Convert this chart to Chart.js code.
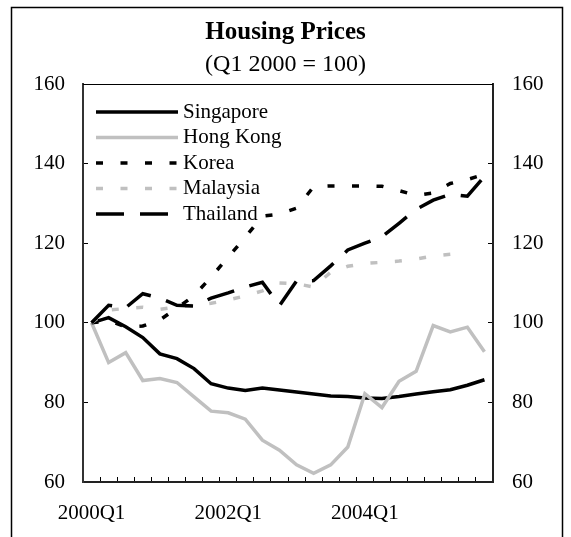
<!DOCTYPE html>
<html>
<head>
<meta charset="utf-8">
<script src="https://cdn.jsdelivr.net/npm/chart.js@4.4.1/dist/chart.umd.min.js"></script>
<style>
  html, body { margin: 0; padding: 0; background: #fff; }
  #wrap { width: 571px; height: 537px; }
</style>
</head>
<body>
<div id="wrap"><canvas id="housingChart" width="571" height="537"></canvas></div>
<script>
// Quarterly categories
const quarters = [
  '2000Q1', '2000Q2', '2000Q3', '2000Q4',
  '2001Q1', '2001Q2', '2001Q3', '2001Q4',
  '2002Q1', '2002Q2', '2002Q3', '2002Q4',
  '2003Q1', '2003Q2', '2003Q3', '2003Q4',
  '2004Q1', '2004Q2', '2004Q3', '2004Q4',
  '2005Q1', '2005Q2', '2005Q3', '2005Q4'
];
const shownQuarters = ['2000Q1', '2002Q1', '2004Q1'];
const yTicks = [60, 80, 100, 120, 140, 160];

// Index values (Q1 2000 = 100)
const singapore = [100, 101.3, 99, 96.3, 92.2, 91, 88.5, 84.7, 83.6, 83, 83.6, 83.1,
  82.6, 82.1, 81.6, 81.5, 81.1, 81, 81.5, 82.1, 82.7, 83.2, 84.3, 85.7];
const hongKong = [100, 90, 92.5, 85.5, 86, 85, 81.4, 77.8, 77.4, 75.8, 70.5, 68,
  64.3, 62.2, 64.3, 68.8, 82.2, 78.7, 85.3, 87.8, 99.3, 97.7, 98.9, 92.7];
const korea = [100, 100.5, 99, 99.2, 100.7, 103.7, 106.8, 111.5, 116.5, 121.5, 126.8, 127.3,
  128.8, 134.2, 134.4, 134.4, 134.4, 134.3, 133.2, 132, 132.6, 135, 136, 137.3];
const malaysia = [100, 103.2, 103.6, 103.9, 103.4, 104, 104.4, 104.9, 105.7, 106.8, 108, 110,
  109.8, 109, 112.7, 114.2, 114.9, 115.2, 115.5, 116, 116.8, 117.2];
const thailand = [100, 104.4, 103.8, 107.3, 106.2, 104.4, 104.2, 106.2, 107.5, 109, 110.2, 104.3,
  110.5, 110.6, 114.3, 118.3, 120, 121.6, 125, 128.5, 130.8, 132.3, 131.8, 136.8];

const serif = 'Liberation Serif, "Times New Roman", serif';
const black = '#000000';
const grey = '#c0c0c0';

// white page, outer frame and the top edge of the plot box
const framePlugin = {
  id: 'frame',
  beforeDraw(chart) {
    const ctx = chart.ctx;
    ctx.save();
    ctx.fillStyle = '#fff';
    ctx.fillRect(0, 0, chart.width, chart.height);
    ctx.strokeStyle = '#000';
    ctx.lineWidth = 1.5;
    ctx.strokeRect(11.5, 7.5, 551, 560);
    ctx.restore();
  },
  afterDraw(chart) {
    const a = chart.chartArea;
    const ctx = chart.ctx;
    ctx.save();
    ctx.strokeStyle = '#000';
    ctx.lineWidth = 1;
    ctx.beginPath();
    ctx.moveTo(a.left, a.top + 0.5);
    ctx.lineTo(a.right, a.top + 0.5);
    ctx.stroke();
    ctx.restore();
  }
};

// legend drawn inside the plot, top left, like the original
const insideLegend = {
  id: 'insideLegend',
  afterDatasetsDraw(chart) {
    const ctx = chart.ctx;
    const x0 = chart.chartArea.left + 13;
    const sampleLen = 82;
    ctx.save();
    ctx.font = '21px ' + serif;
    ctx.textBaseline = 'middle';
    ctx.textAlign = 'left';
    chart.data.datasets.forEach((ds, i) => {
      const y = chart.chartArea.top + 28 + i * 25.5;
      ctx.strokeStyle = ds.borderColor;
      ctx.lineWidth = ds.borderWidth;
      ctx.setLineDash(ds.borderDash || []);
      ctx.beginPath();
      ctx.moveTo(x0, y);
      ctx.lineTo(x0 + sampleLen, y);
      ctx.stroke();
      ctx.setLineDash([]);
      ctx.fillStyle = '#000';
      ctx.fillText(ds.label, x0 + sampleLen + 5, y);
    });
    ctx.restore();
  }
};

function setYTicks(scale) {
  scale.ticks = yTicks.map(v => ({ value: v }));
}

const ctx = document.getElementById('housingChart');
new Chart(ctx.getContext('2d'), {
  type: 'line',
  data: {
    labels: quarters,
    datasets: [
      { label: 'Singapore', data: singapore, borderColor: black, borderWidth: 3.5, order: 5 },
      { label: 'Hong Kong', data: hongKong, borderColor: grey, borderWidth: 3.5, order: 4 },
      { label: 'Korea', data: korea, borderColor: black, borderWidth: 3.5, borderDash: [7, 17.5], order: 3 },
      { label: 'Malaysia', data: malaysia, borderColor: grey, borderWidth: 3.5, borderDash: [7, 17.5], order: 2 },
      { label: 'Thailand', data: thailand, borderColor: black, borderWidth: 3.5, borderDash: [28, 16], order: 1 }
    ]
  },
  options: {
    responsive: false,
    animation: false,
    layout: { padding: { left: 0, right: 0, top: 0, bottom: 0 } },
    elements: {
      point: { radius: 0 },
      line: { tension: 0, borderCapStyle: 'butt', borderJoinStyle: 'miter', fill: false }
    },
    scales: {
      x: {
        type: 'category',
        offset: true,
        grid: { display: true, drawOnChartArea: false, drawTicks: true, tickLength: -5, offset: true, color: black, lineWidth: 1 },
        border: { display: true, color: '#222', width: 2 },
        ticks: {
          autoSkip: false,
          maxRotation: 0,
          padding: 24,
          color: black,
          font: { family: serif, size: 21 },
          callback: function(value) {
            const lab = this.getLabelForValue(value);
            return shownQuarters.includes(lab) ? lab : '';
          }
        },
        afterFit: scale => { scale.height = 55; }
      },
      y: {
        position: 'left',
        min: 60,
        max: 160,
        afterBuildTicks: setYTicks,
        grid: { display: true, drawOnChartArea: false, drawTicks: true, tickLength: -5, color: black },
        border: { display: true, color: '#333', width: 2 },
        ticks: { padding: 23, color: black, font: { family: serif, size: 21 } },
        afterFit: scale => { scale.width = 83; }
      },
      y2: {
        position: 'right',
        min: 60,
        max: 160,
        afterBuildTicks: setYTicks,
        grid: { display: true, drawOnChartArea: false, drawTicks: true, tickLength: -5, color: black },
        border: { display: true, color: '#222', width: 2 },
        ticks: { padding: 24, color: black, font: { family: serif, size: 21 } },
        afterFit: scale => { scale.width = 78; }
      }
    },
    plugins: {
      legend: { display: false },
      tooltip: { enabled: false },
      title: {
        display: true,
        text: 'Housing Prices',
        color: black,
        font: { family: serif, size: 25, weight: 'bold' },
        padding: { top: 18, bottom: 0 }
      },
      subtitle: {
        display: true,
        text: '(Q1 2000 = 100)',
        color: black,
        font: { family: serif, size: 24, weight: 'normal' },
        padding: { top: 2.6, bottom: 4.6 }
      }
    }
  },
  plugins: [framePlugin, insideLegend]
});
</script>
</body>
</html>
